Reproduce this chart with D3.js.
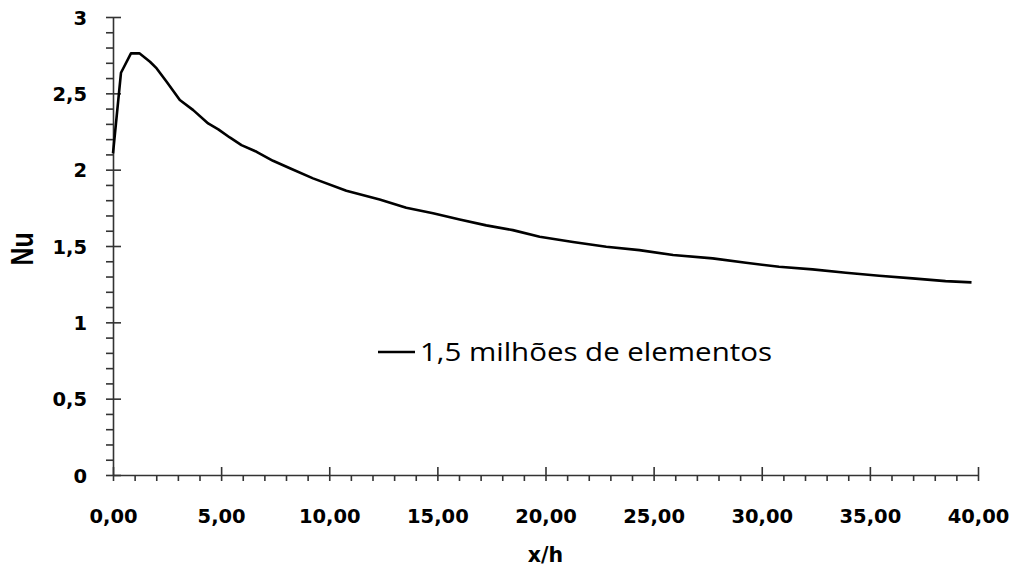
<!DOCTYPE html>
<html>
<head>
<meta charset="utf-8">
<script src="https://cdn.jsdelivr.net/npm/d3@7"></script>
<style>
  html, body { margin: 0; padding: 0; background: #fff; }
  svg { display: block; }
</style>
</head>
<body>
<svg id="chart" width="1014" height="570"></svg>
<script>
// Local Nusselt number along the wall, x/h
const xh = [0, 0.37, 0.83, 1.22, 1.71, 2.02, 2.48, 3.09, 3.71, 4.40, 4.87, 5.40, 5.94, 6.64,
            7.40, 8.18, 9.25, 10.79, 12.33, 13.56, 14.80, 16.03, 17.26, 18.49, 19.73, 21.27,
            22.81, 24.34, 25.90, 27.73, 29.27, 30.80, 32.35, 33.89, 35.43, 36.97, 38.50, 39.70];
const nu = [2.107, 2.635, 2.762, 2.762, 2.707, 2.663, 2.576, 2.456, 2.390, 2.303, 2.264, 2.211,
            2.161, 2.117, 2.058, 2.009, 1.943, 1.862, 1.805, 1.750, 1.714, 1.674, 1.635, 1.604,
            1.561, 1.526, 1.495, 1.473, 1.441, 1.419, 1.390, 1.364, 1.347, 1.325, 1.305, 1.288,
            1.270, 1.262];
const seriesName = "1,5 milhões de elementos";

const xTicks = [0, 5, 10, 15, 20, 25, 30, 35, 40];
const xTickLabels = ["0,00", "5,00", "10,00", "15,00", "20,00", "25,00", "30,00", "35,00", "40,00"];
const yTicks = [0, 0.5, 1, 1.5, 2, 2.5, 3];
const yTickLabels = ["0", "0,5", "1", "1,5", "2", "2,5", "3"];
const xLabel = "x/h";
const yLabel = "Nu";

const svg = d3.select("#chart");
const x = d3.scaleLinear().domain([0, 40]).range([113, 978]);
const y = d3.scaleLinear().domain([0, 3]).range([475, 17]);

const axisColor = "#333";
const tickFont = "'DejaVu Sans', sans-serif";

// Minor ticks: every 1 on x, every 0.1 on y
const xMinor = d3.range(1, 40).filter(v => v % 5 !== 0);
const yMinor = d3.range(1, 30).filter(v => v % 5 !== 0).map(v => v / 10);

const gxMinor = svg.append("g")
  .attr("transform", `translate(0,${y(0)})`)
  .call(d3.axisBottom(x).tickValues(xMinor).tickFormat("").tickSize(6).tickSizeOuter(0));
gxMinor.select(".domain").remove();

const gyMinor = svg.append("g")
  .attr("transform", `translate(${x(0)},0)`)
  .call(d3.axisLeft(y).tickValues(yMinor).tickFormat("").tickSize(7).tickSizeOuter(0));
gyMinor.select(".domain").remove();

// Major x axis
const gx = svg.append("g")
  .attr("transform", `translate(0,${y(0)})`)
  .call(d3.axisBottom(x).tickValues(xTicks)
    .tickFormat((d, i) => xTickLabels[i]).tickSize(6).tickSizeOuter(0));
gx.selectAll(".tick line").attr("y1", -8).attr("y2", 6);
gx.selectAll(".tick text")
  .attr("dy", null).attr("y", 47.5)
  .style("font-family", tickFont).style("font-weight", "bold")
  .style("font-size", "19.5px").attr("fill", "#000");

// Major y axis
const gy = svg.append("g")
  .attr("transform", `translate(${x(0)},0)`)
  .call(d3.axisLeft(y).tickValues(yTicks)
    .tickFormat((d, i) => yTickLabels[i]).tickSize(7).tickSizeOuter(0));
gy.selectAll(".tick line").attr("x1", 8).attr("x2", -7);
gy.selectAll(".tick text")
  .attr("dy", null).attr("x", -26).attr("y", 7)
  .style("font-family", tickFont).style("font-weight", "bold")
  .style("font-size", "19.5px").attr("fill", "#000");

svg.selectAll(".domain, .tick line")
  .attr("stroke", axisColor).attr("stroke-width", 1.6);

// Data line
const line = d3.line().x((d, i) => x(xh[i])).y(d => y(d));
svg.append("path")
  .datum(nu)
  .attr("d", line)
  .attr("fill", "none")
  .attr("stroke", "#000")
  .attr("stroke-width", 2.6)
  .attr("stroke-linejoin", "round");

// Axis titles
svg.append("text")
  .attr("x", (x(0) + x(40)) / 2).attr("y", 562)
  .attr("text-anchor", "middle")
  .style("font-family", tickFont).style("font-weight", "bold").style("font-size", "20.5px")
  .text(xLabel);

svg.append("text")
  .attr("transform", "translate(33,249) rotate(-90)")
  .attr("text-anchor", "middle")
  .attr("textLength", 33).attr("lengthAdjust", "spacingAndGlyphs")
  .style("font-family", "'Liberation Sans', sans-serif").style("font-weight", "bold")
  .style("font-size", "31px")
  .text(yLabel);

// Legend
const lg = svg.append("g");
lg.append("line")
  .attr("x1", 378).attr("x2", 415).attr("y1", 352).attr("y2", 352)
  .attr("stroke", "#000").attr("stroke-width", 2.6);
lg.append("text")
  .attr("x", 420).attr("y", 361)
  .attr("textLength", 352).attr("lengthAdjust", "spacingAndGlyphs")
  .style("font-family", "'Open Sans', sans-serif").style("font-size", "25.5px")
  .attr("fill", "#000")
  .text(seriesName);
</script>
</body>
</html>
